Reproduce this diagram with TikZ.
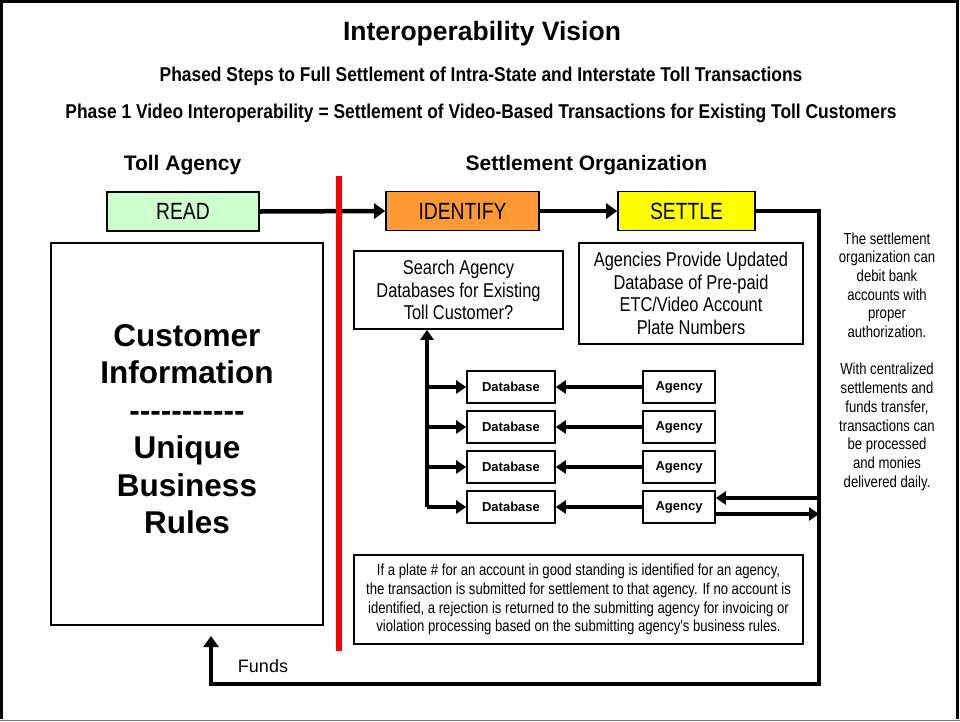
\documentclass[tikz,border=0pt]{standalone}
\usepackage{fontspec}
\setmainfont{Liberation Sans}
\newfontfamily\narrowfont[FakeStretch=0.82]{Liberation Sans}
\newfontfamily\subfont[FakeStretch=0.87]{Liberation Sans}
\usetikzlibrary{arrows.meta}
\definecolor{readgreen}{HTML}{CCFFCC}
\definecolor{idorange}{HTML}{FF9933}
\definecolor{settleyellow}{HTML}{FFFF00}
\newcommand{\fs}[2]{\fontsize{#1}{#2}\selectfont}
% a row of single hyphens, kept apart so they do not join into dashes
\newcommand{\hyphenrow}{-\kern0pt-\kern0pt-\kern0pt-\kern0pt-\kern0pt-\kern0pt-\kern0pt-\kern0pt-\kern0pt-\kern0pt-}

\begin{document}
\begin{tikzpicture}[x=1pt,y=-1pt,
  box/.style={draw=black, line width=1.6pt, inner sep=0pt, align=center},
  stagebox/.style={box, minimum height=39pt, font=\narrowfont\fs{23.5}{26}},
  infobox/.style={box, font=\narrowfont\fs{20}{22.5}},
  smallbox/.style={box, minimum height=32pt, font=\bfseries\fs{13}{15}},
  heading/.style={inner sep=0pt, font=\bfseries\fs{21}{24}},
  flow/.style={line width=4.5pt, line join=miter, -{Triangle[length=11pt,width=15pt]}},
  feed/.style={line width=4pt, -{Triangle[length=10pt,width=13pt]}},
  txt/.style={inner sep=0pt, align=center}
]
\useasboundingbox (0,0) rectangle (960,721);

% outer frame
\draw[line width=2.5pt] (1.5,719) -- (1.5,1.5) -- (957.5,1.5) -- (957.5,719);
\draw[gray, line width=1pt] (0,720) -- (960,720);

% titles
\node[txt, font=\bfseries\fs{26.5}{30}] (title) at (482,34) {Interoperability Vision};
\node[txt, font=\subfont\bfseries\fs{20}{23}] (sub1) at (481,76)
  {Phased Steps to Full Settlement of Intra-State and Interstate Toll Transactions};
\node[txt, font=\subfont\bfseries\fs{20}{23}] (sub2) at (481,113)
  {Phase 1 Video Interoperability = Settlement of Video-Based Transactions for Existing Toll Customers};

% column headings
\node[heading] (tollhead) at (182.5,165) {Toll Agency};
\node[heading] (orghead) at (586.5,165) {Settlement Organization};

% process stages
\node[stagebox, fill=readgreen, minimum width=152pt] (read) at (183,211.5) {READ};
\node[stagebox, fill=idorange, minimum width=153pt] (identify) at (462.5,211) {IDENTIFY};
\node[stagebox, fill=settleyellow, minimum width=137pt] (settle) at (686.5,211) {SETTLE};

% toll agency side
\node[box, minimum width=272pt, minimum height=382pt] (cust) at (187,434) {};
\node[txt, font=\bfseries\fs{31.5}{37.5}] (custtext) at (187,429)
  {Customer\\Information\\\hyphenrow\\Unique\\Business\\Rules};

% settlement organization side
\node[infobox, minimum width=209pt, minimum height=78pt] (search) at (458.5,290)
  {\rule{0pt}{4pt}Search Agency\\Databases for Existing\\Toll Customer?};
\node[infobox, minimum width=224pt, minimum height=101pt] (provide) at (691,293.5)
  {Agencies Provide Updated\\Database of Pre-paid\\ETC/Video Account\\Plate Numbers};

\foreach \i/\y in {1/387,2/427,3/467,4/507}{
  \node[smallbox, minimum width=88pt] (db\i) at (511,\y) {Database};
  \node[smallbox, minimum width=72pt] (ag\i) at (679,\y) {Agency};
}

\node[box, line width=1.3pt, minimum width=449pt, minimum height=89pt, font=\narrowfont\fs{16}{18.7}]
  (note) at (578.5,599.5)
  {If a plate \# for an account in good standing is identified for an agency,\\
   the transaction is submitted for settlement to that agency. If no account is\\
   identified, a rejection is returned to the submitting agency for invoicing or\\
   violation processing based on the submitting agency's business rules.};

\node[txt, font=\narrowfont\fs{16}{18.7}] (side) at (887,361.5)
  {The settlement\\organization can\\debit bank\\accounts with\\proper\\authorization.\\[18.7pt]
   With centralized\\settlements and\\funds transfer,\\transactions can\\be processed\\and monies\\delivered daily.};

\node[txt, font=\fs{18}{21}] (funds) at (263,666) {Funds};

% connectors
\coordinate (busbot) at (427,507);
\coordinate (cornerTR) at (819,211);
\coordinate (cornerBR) at (819,684);
\coordinate (cornerBL) at (211,684);
\coordinate (fundstip) at (211,636);
\coordinate (retin) at (819,498);
\coordinate (retout) at (819,514);

\draw[flow] (read.east) -- (identify.west);
\draw[flow] (identify.east) -- (settle.west);
\draw[flow] (settle.east) -- (cornerTR) -- (cornerBR) -- (cornerBL) -- (fundstip);

\draw[feed] (busbot) -- (busbot |- search.south);
\foreach \i in {1,2,3,4}{
  \draw[feed] (busbot |- db\i) -- (db\i.west);
  \draw[feed] (ag\i.west) -- (db\i.east);
}
\draw[feed] (retin) -- (ag4.east |- retin);
\draw[feed] (ag4.east |- retout) -- (retout);

% boundary between the toll agency and the settlement organization
\draw[red, line width=6pt] (339,176) -- (339,651);
\end{tikzpicture}
\end{document}
